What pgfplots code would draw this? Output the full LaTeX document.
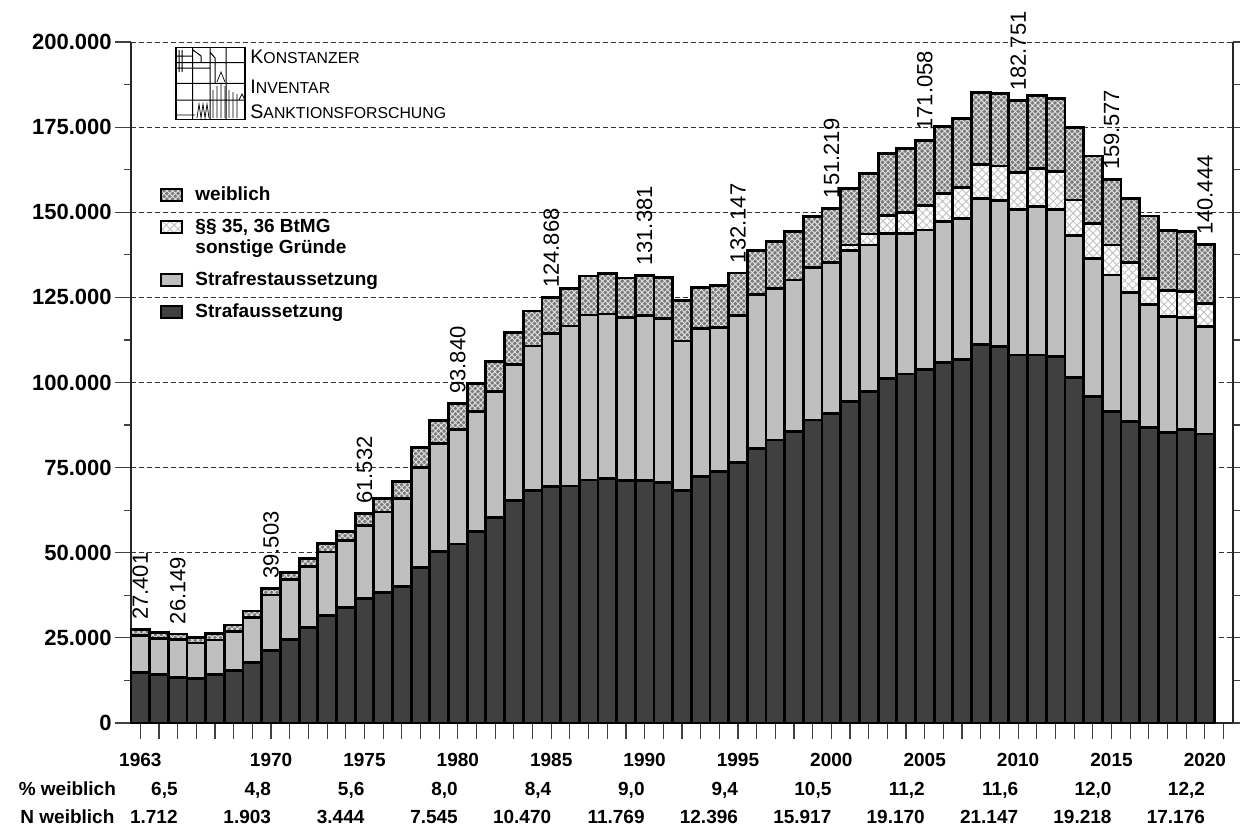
\documentclass[border=0pt]{standalone}
\usepackage{fontspec}
\setmainfont{Liberation Sans}
\usepackage{pgfplots}
\usepackage{pgfplotstable}
\pgfplotsset{compat=1.18}
\usetikzlibrary{patterns.meta}
\definecolor{cdark}{HTML}{404040}
\definecolor{clight}{HTML}{BFBFBF}
\definecolor{cwg}{HTML}{7A7A7A}
\definecolor{cwl}{HTML}{E2E2E2}
\definecolor{cbt}{HTML}{C4C4C4}

\pgfplotstableread{
year A R B W
1963 14900 10700 0 1801
1964 14300 10500 0 1900
1965 13400 11037 0 1712
1966 13000 10500 0 1700
1967 14200 10200 0 1800
1968 15400 11500 0 1900
1969 17800 13200 0 1900
1970 21200 16400 0 1903
1971 24600 17600 0 2100
1972 28100 17800 0 2400
1973 31600 18600 0 2600
1974 34000 19500 0 2800
1975 36500 21588 0 3444
1976 38300 23700 0 4000
1977 40200 25800 0 4900
1978 45700 29400 0 5900
1979 50300 31800 0 6700
1980 52600 33695 0 7545
1981 56200 35400 0 8200
1982 60300 37000 0 8800
1983 65400 39800 0 9400
1984 68400 42300 0 10300
1985 69400 44998 0 10470
1986 69600 47000 0 10900
1987 71400 48400 0 11500
1988 71900 48200 0 11800
1989 71200 48000 0 11500
1990 71200 48412 0 11769
1991 70700 48100 0 12000
1992 68400 43800 0 11800
1993 72300 43600 0 12100
1994 73800 42400 0 12200
1995 76500 43251 0 12396
1996 80700 45100 0 12900
1997 83100 44600 0 13600
1998 85600 44500 0 14200
1999 89000 44800 0 14900
2000 90800 44502 0 15917
2001 94400 44300 1700 16600
2002 97300 43100 3200 17800
2003 101200 42600 5200 18300
2004 102500 41300 6100 18900
2005 103900 40900 7088 19170
2006 105800 41400 8200 19700
2007 106800 41400 9100 20300
2008 111200 42900 10000 21100
2009 110500 42900 10200 21300
2010 108100 42600 10904 21147
2011 108100 43700 11100 21500
2012 107700 43200 11000 21600
2013 101500 41700 10400 21200
2014 95800 40700 10100 19900
2015 91400 40200 8759 19218
2016 88500 37900 8900 18800
2017 86700 36100 7800 18300
2018 85300 34000 7700 17600
2019 86300 32700 7700 17600
2020 84900 31500 6868 17176
}\kis

\pgfplotstableread{
year tot lab
1963 27401 27.401
1965 26149 26.149
1970 39503 39.503
1975 61532 61.532
1980 93840 93.840
1985 124868 124.868
1990 131381 131.381
1995 132147 132.147
2000 151219 151.219
2005 171058 171.058
2010 182751 182.751
2015 159577 159.577
2020 140444 140.444
}\labs

\tikzset{
  wpat/.style={preaction={fill=cwg}, pattern={Hatch[angle=45,distance=2.0pt,line width=0.45pt]}, pattern color=cwl},
  bpat/.style={preaction={fill=white}, pattern={Hatch[angle=45,distance=2.8pt,line width=0.5pt]}, pattern color=cbt},
  rowfont/.style={font=\bfseries\fontsize{9.5}{11}\selectfont},
}

\begin{document}
\begin{tikzpicture}
\begin{axis}[
  scale only axis, width=551pt, height=340.5pt,
  xmin=1962.5, xmax=2021.5, ymin=0, ymax=200000,
  axis x line*=bottom, axis y line*=box,
  ybar stacked, bar width=1,
  clip=false,
  xtick={1963,...,2021},
  xticklabels={1963,{},{},{},{},{},{},1970,{},{},{},{},1975,{},{},{},{},1980,{},{},{},{},1985,{},{},{},{},1990,{},{},{},{},1995,{},{},{},{},2000,{},{},{},{},2005,{},{},{},{},2010,{},{},{},{},2015,{},{},{},{},2020,{}},
  ytick={0,25000,50000,75000,100000,125000,150000,175000,200000},
  yticklabels={0,25.000,50.000,75.000,100.000,125.000,150.000,175.000,200.000},
  minor y tick num=1,
  scaled y ticks=false,
  tick align=outside,
  major tick length=8pt, minor tick length=3.5pt,
  ymajorgrids,
  major grid style={dash pattern=on 2.5pt off 1.5pt, line width=0.5pt, black!80},
  axis line style={line width=0.7pt, black!85},
  tick style={line width=0.6pt, black!75},
  yticklabel style={font=\bfseries\fontsize{11}{13}\selectfont, inner xsep=1.5pt},
  xticklabel style={font=\bfseries\fontsize{9.5}{11}\selectfont, inner sep=0pt, yshift=-7pt},
  legend style={draw=none, fill=none, at={(0.026,0.79)}, anchor=north west, inner sep=0pt,
    row sep=6.85pt, column sep=6pt, font=\bfseries\fontsize{9.5}{10.8}\selectfont,
    cells={anchor=base west}, nodes={inner sep=0pt}},
]
\addlegendimage{draw=black, line width=1.2pt, wpat, legend image code/.code={\draw (0pt,-0.25pt) rectangle (10.5pt,5.75pt);}}
\addlegendentry{\strut weiblich}
\addlegendimage{draw=black, line width=1.2pt, bpat, legend image code/.code={\draw (0pt,-0.25pt) rectangle (10.5pt,5.75pt);}}
\addlegendentry{\strut\makebox[0pt][l]{\raisebox{-10.8pt}[0pt][0pt]{sonstige Gründe}}§§ 35, 36 BtMG}
\addlegendimage{draw=black, line width=1.2pt, fill=clight, legend image code/.code={\draw (0pt,-0.25pt) rectangle (10.5pt,5.75pt);}}
\addlegendentry{\rule{0pt}{18.36pt}\strut Strafrestaussetzung}
\addlegendimage{draw=black, line width=1.2pt, fill=cdark, legend image code/.code={\draw (0pt,-0.25pt) rectangle (10.5pt,5.75pt);}}
\addlegendentry{\strut Strafaussetzung}

\addplot[draw=black, line width=1.4pt, fill=cdark] table[x=year, y=A]{\kis};
\addplot[draw=black, line width=1.4pt, fill=clight] table[x=year, y=R]{\kis};
\addplot[draw=black, line width=1.4pt, bpat] table[x=year, y=B]{\kis};
\addplot[draw=black, line width=1.4pt, wpat] table[x=year, y=W]{\kis};

% rows below the axis
\node[rowfont, anchor=base west, xshift=-59.65pt] at (axis cs:1962.5,-21145) {\% weiblich};
\node[rowfont, anchor=base west, xshift=-58.8pt] at (axis cs:1962.5,-29369) {N weiblich};
\node[rowfont, anchor=base east, xshift=3.5pt] at (axis cs:1965,-21145) {6,5};
\node[rowfont, anchor=base east, xshift=3.5pt] at (axis cs:1970,-21145) {4,8};
\node[rowfont, anchor=base east, xshift=3.5pt] at (axis cs:1975,-21145) {5,6};
\node[rowfont, anchor=base east, xshift=3.5pt] at (axis cs:1980,-21145) {8,0};
\node[rowfont, anchor=base east, xshift=3.5pt] at (axis cs:1985,-21145) {8,4};
\node[rowfont, anchor=base east, xshift=3.5pt] at (axis cs:1990,-21145) {9,0};
\node[rowfont, anchor=base east, xshift=3.5pt] at (axis cs:1995,-21145) {9,4};
\node[rowfont, anchor=base east, xshift=3.5pt] at (axis cs:2000,-21145) {10,5};
\node[rowfont, anchor=base east, xshift=3.5pt] at (axis cs:2005,-21145) {11,2};
\node[rowfont, anchor=base east, xshift=3.5pt] at (axis cs:2010,-21145) {11,6};
\node[rowfont, anchor=base east, xshift=3.5pt] at (axis cs:2015,-21145) {12,0};
\node[rowfont, anchor=base east, xshift=3.5pt] at (axis cs:2020,-21145) {12,2};
\node[rowfont, anchor=base east, xshift=3.5pt] at (axis cs:1965,-29369) {1.712};
\node[rowfont, anchor=base east, xshift=3.5pt] at (axis cs:1970,-29369) {1.903};
\node[rowfont, anchor=base east, xshift=3.5pt] at (axis cs:1975,-29369) {3.444};
\node[rowfont, anchor=base east, xshift=3.5pt] at (axis cs:1980,-29369) {7.545};
\node[rowfont, anchor=base east, xshift=3.5pt] at (axis cs:1985,-29369) {10.470};
\node[rowfont, anchor=base east, xshift=3.5pt] at (axis cs:1990,-29369) {11.769};
\node[rowfont, anchor=base east, xshift=3.5pt] at (axis cs:1995,-29369) {12.396};
\node[rowfont, anchor=base east, xshift=3.5pt] at (axis cs:2000,-29369) {15.917};
\node[rowfont, anchor=base east, xshift=3.5pt] at (axis cs:2005,-29369) {19.170};
\node[rowfont, anchor=base east, xshift=3.5pt] at (axis cs:2010,-29369) {21.147};
\node[rowfont, anchor=base east, xshift=3.5pt] at (axis cs:2015,-29369) {19.218};
\node[rowfont, anchor=base east, xshift=3.5pt] at (axis cs:2020,-29369) {17.176};
\end{axis}

% overlay axis for the rotated total labels
\begin{axis}[
  scale only axis, width=551pt, height=340.5pt,
  xmin=1962.5, xmax=2021.5, ymin=0, ymax=200000,
  hide axis, clip=false,
]
\addplot[only marks, mark=*, mark size=0.01pt, mark options={draw=none, fill=none},
  nodes near coords, point meta=explicit symbolic,
  nodes near coords style={font=\fontsize{11}{13}\selectfont, rotate=90, anchor=west, inner xsep=4.75pt, inner ysep=0pt, text=black}]
  table[x=year, y=tot, meta=lab]{\labs};
\end{axis}

% logo
\begin{scope}[shift={(current axis.north west)}]
  \fill[white] (22.5pt,-2.7pt) rectangle (57pt,-38.7pt);
  \draw[line width=0.9pt] (22.5pt,-2.7pt) rectangle (57pt,-38.7pt);
  \draw[line width=0.5pt]
    (22.5pt,-10.3pt) -- (57pt,-10.3pt)
    (22.5pt,-20.7pt) -- (57pt,-20.7pt)
    (22.5pt,-29pt) -- (57pt,-29pt)
    (30.8pt,-2.7pt) -- (30.8pt,-38.7pt)
    (39.5pt,-2.7pt) -- (39.5pt,-38.7pt)
    (47.5pt,-2.7pt) -- (47.5pt,-38.7pt)
    (24pt,-4pt) -- (24pt,-15pt) (25.5pt,-4pt) -- (25.5pt,-15pt)
    (22.5pt,-7pt) -- (30.8pt,-7pt) (22.5pt,-13pt) -- (39.5pt,-13pt)
    (31pt,-4pt) -- (35pt,-7pt) -- (35pt,-10.3pt)
    (39.5pt,-5pt) -- (42pt,-8pt) -- (42pt,-20.7pt);
  \draw[line width=0.35pt]
    (43pt,-20pt) -- (45pt,-15pt) -- (47pt,-20pt)
    (41pt,-24pt) -- (41pt,-38pt) (43pt,-22pt) -- (43pt,-38pt) (45pt,-21pt) -- (45pt,-38pt) (47pt,-22pt) -- (47pt,-38pt)
    (49pt,-24pt) -- (49pt,-38pt) (51pt,-25pt) -- (51pt,-38pt) (53pt,-26pt) -- (53pt,-38pt)
    (33pt,-38pt) -- (34pt,-31pt) -- (35pt,-38pt) -- (36pt,-31pt) -- (37pt,-38pt) -- (38pt,-31pt) -- (39pt,-38pt)
    (54pt,-29pt) -- (55.5pt,-26pt) -- (57pt,-29pt)
    (22.5pt,-36.5pt) -- (32pt,-36.5pt);
  \node[anchor=base west, inner sep=0pt] at (59.5pt,-10.65pt) {\fontsize{9.8}{10}\selectfont K\fontsize{7.9}{9}\selectfont ONSTANZER};
  \node[anchor=base west, inner sep=0pt] at (59.5pt,-25.65pt) {\fontsize{9.8}{10}\selectfont I\fontsize{7.9}{9}\selectfont NVENTAR};
  \node[anchor=base west, inner sep=0pt] at (59.5pt,-38.15pt) {\fontsize{9.8}{10}\selectfont S\fontsize{7.9}{9}\selectfont ANKTIONSFORSCHUNG};
\end{scope}

\pgfresetboundingbox
\path ([xshift=-65.5pt,yshift=-52pt]current axis.south west) rectangle ([xshift=3.5pt,yshift=21pt]current axis.north east);
\end{tikzpicture}
\end{document}
